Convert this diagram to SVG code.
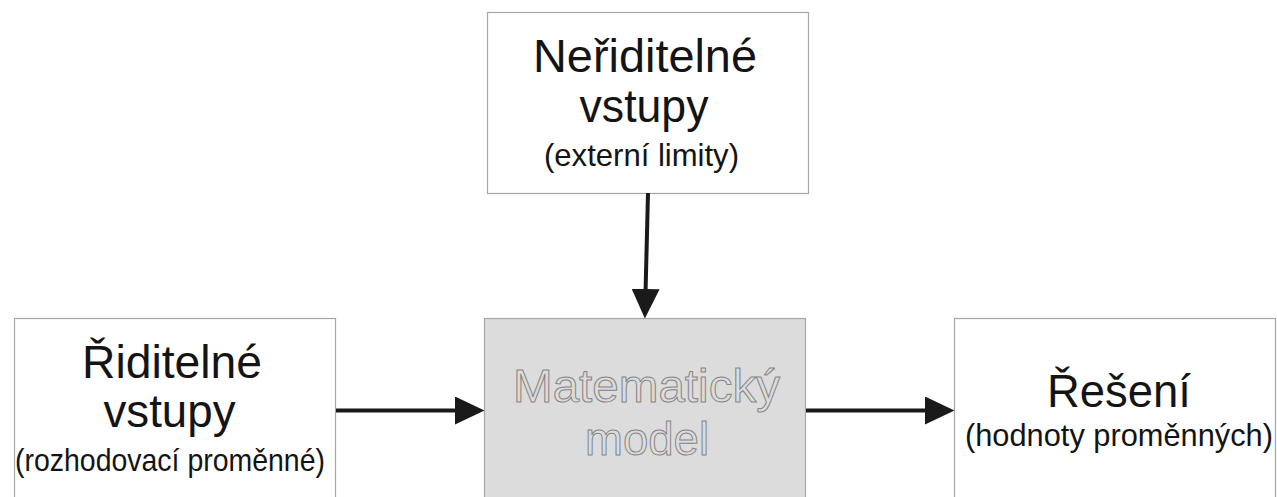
<svg xmlns="http://www.w3.org/2000/svg" width="1277" height="497" viewBox="0 0 1277 497">
<style>
.box{fill:#ffffff;stroke:#a6a6a6;stroke-width:1.2}
.model{fill:#dcdcdc;stroke:#a6a6a6;stroke-width:1.2}
.t{font-family:"Liberation Sans",Arial,sans-serif;fill:#141414;text-anchor:middle}
.big{font-size:47px}
.sub{font-size:30.5px}
.outl{font-family:"Liberation Sans",Arial,sans-serif;font-size:47px;text-anchor:middle;fill:#dcdcdc;stroke:#858585;stroke-width:1}
.conn{stroke:#1a1a1a;stroke-width:4;fill:none}
</style>
<defs>
<marker id="ah" markerUnits="userSpaceOnUse" markerWidth="30" markerHeight="28" refX="0" refY="14" orient="auto" viewBox="0 0 30 28">
<path d="M0,0 L29.5,14 L0,28 z" fill="#1a1a1a"/>
</marker>
</defs>
<rect width="1277" height="497" fill="#ffffff"/>
<g id="node-top">
<rect class="box" x="487.5" y="12.5" width="321" height="181"/>
<text class="t big" x="645" y="72" textLength="224" lengthAdjust="spacingAndGlyphs">Neřiditelné</text>
<text class="t big" x="644" y="122" textLength="129" lengthAdjust="spacingAndGlyphs">vstupy</text>
<text class="t sub" x="641.5" y="166" textLength="195" lengthAdjust="spacingAndGlyphs">(externí limity)</text>
</g>
<g id="node-left">
<rect class="box" x="14.5" y="318.5" width="321" height="190"/>
<text class="t big" x="172" y="378" textLength="180" lengthAdjust="spacingAndGlyphs">Řiditelné</text>
<text class="t big" x="169.5" y="427" textLength="132" lengthAdjust="spacingAndGlyphs">vstupy</text>
<text class="t sub" x="170" y="471" textLength="310" lengthAdjust="spacingAndGlyphs">(rozhodovací proměnné)</text>
</g>
<g id="node-model">
<rect class="model" x="484.5" y="318.5" width="321" height="190"/>
<g opacity="0.99">
<text class="outl" x="646.5" y="402" textLength="267" lengthAdjust="spacingAndGlyphs">Matematický</text>
<text class="outl" x="647" y="455" textLength="124" lengthAdjust="spacingAndGlyphs">model</text>
</g>
</g>
<g id="node-right">
<rect class="box" x="954.5" y="318.5" width="321" height="190"/>
<text class="t big" x="1119" y="407" textLength="144" lengthAdjust="spacingAndGlyphs">Řešení</text>
<text class="t sub" x="1119" y="446" textLength="308" lengthAdjust="spacingAndGlyphs">(hodnoty proměnných)</text>
</g>
<g id="connectors">
<line class="conn" x1="648" y1="193" x2="645.6" y2="289" marker-end="url(#ah)"/>
<line class="conn" x1="336" y1="410.5" x2="455" y2="410.5" marker-end="url(#ah)"/>
<line class="conn" x1="806" y1="410.5" x2="925" y2="410.5" marker-end="url(#ah)"/>
</g>
</svg>
